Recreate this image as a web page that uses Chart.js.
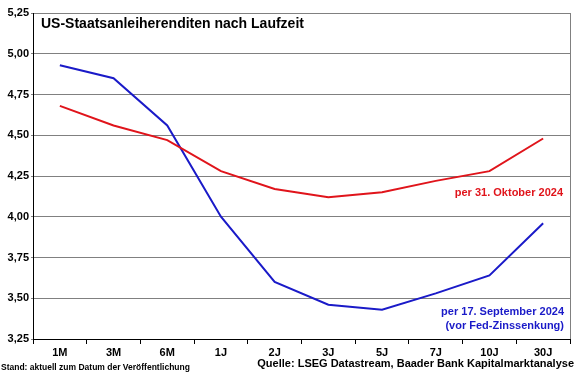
<!DOCTYPE html>
<html>
<head>
<meta charset="utf-8">
<script src="https://cdn.jsdelivr.net/npm/chart.js@4/dist/chart.umd.min.js"></script>
<style>
  html, body { margin: 0; padding: 0; background: #fff; }
  #wrap { width: 580px; height: 375px; position: relative; }
</style>
</head>
<body>
<div id="wrap"><canvas id="renditenChart"></canvas></div>
<script>
var laufzeiten = ['1M', '3M', '6M', '1J', '2J', '3J', '5J', '7J', '10J', '30J'];

var renditeOktober = [4.68, 4.56, 4.47, 4.28, 4.17, 4.12, 4.15, 4.22, 4.28, 4.48];
var renditeSeptember = [4.93, 4.85, 4.56, 4.00, 3.60, 3.46, 3.43, 3.53, 3.64, 3.96];

var yTicks = [3.25, 3.50, 3.75, 4.00, 4.25, 4.50, 4.75, 5.00, 5.25];

var titel = 'US-Staatsanleiherenditen nach Laufzeit';
var labelOktober = 'per 31. Oktober 2024';
var labelSeptember = ['per 17. September 2024', '(vor Fed-Zinssenkung)'];
var stand = 'Stand: aktuell zum Datum der Veröffentlichung';
var quelle = 'Quelle: LSEG Datastream, Baader Bank Kapitalmarktanalyse';

const ROT = '#e0141b';
const BLAU = '#1a1ac8';

// texte und rahmen direkt auf den canvas
const textPlugin = {
    id: 'texte',
    afterDraw: function(chart) {
        var ctx = chart.ctx;
        var a = chart.chartArea;
        ctx.save();
        // rahmen rechts
        ctx.strokeStyle = '#808080';
        ctx.lineWidth = 1;
        ctx.beginPath();
        ctx.moveTo(a.right + 0.5, a.top);
        ctx.lineTo(a.right + 0.5, a.bottom);
        ctx.stroke();

        ctx.fillStyle = '#000';
        ctx.font = 'bold 14px "Liberation Sans", Arial, sans-serif';
        ctx.textBaseline = 'middle';
        ctx.textAlign = 'left';
        ctx.fillText(titel, a.left + 8, 24);

        ctx.textAlign = 'right';
        ctx.font = 'bold 11px "Liberation Sans", Arial, sans-serif';
        ctx.fillStyle = ROT;
        ctx.fillText(labelOktober, a.right - 7, 193);
        ctx.fillStyle = BLAU;
        ctx.fillText(labelSeptember[0], a.right - 6, 312);
        ctx.fillText(labelSeptember[1], a.right - 6, 326);

        ctx.fillStyle = '#000';
        ctx.font = 'bold 11px "Liberation Sans", Arial, sans-serif';
        ctx.fillText(quelle, 574, 364);
        ctx.textAlign = 'left';
        ctx.font = 'bold 8.5px "Liberation Sans", Arial, sans-serif';
        ctx.fillText(stand, 1, 368);
        ctx.restore();
    }
};

var ctx = document.getElementById('renditenChart').getContext('2d');

var renditenChart = new Chart(ctx, {
    type: 'line',
    data: {
        labels: laufzeiten,
        datasets: [{
            label: labelOktober,
            data: renditeOktober,
            borderColor: ROT,
            borderWidth: 2,
            pointRadius: 0,
            tension: 0
        }, {
            label: labelSeptember[0],
            data: renditeSeptember,
            borderColor: BLAU,
            borderWidth: 2,
            pointRadius: 0,
            tension: 0
        }]
    },
    options: {
        responsive: true,
        maintainAspectRatio: false,
        animation: false,
        layout: { padding: { top: 13, right: 10, left: 0, bottom: 0 } },
        plugins: {
            legend: { display: false },
            tooltip: { enabled: false }
        },
        scales: {
            x: {
                offset: true,
                grid: {
                    display: true,
                    offset: true,
                    drawOnChartArea: false,
                    drawTicks: true,
                    tickLength: 5,
                    color: '#000'
                },
                border: { color: '#000', width: 1 },
                ticks: {
                    color: '#000',
                    padding: 2,
                    font: { family: '"Liberation Sans", Arial, sans-serif', size: 11, weight: 'bold' }
                },
                afterFit: function(s) { s.height = 36; }
            },
            y: {
                min: 3.25,
                max: 5.25,
                afterBuildTicks: function(s) {
                    s.ticks = yTicks.map(function(v) { return { value: v }; });
                },
                grid: {
                    color: '#808080',
                    tickLength: 2
                },
                border: { color: '#000', width: 1 },
                ticks: {
                    color: '#000',
                    padding: 2,
                    font: { family: '"Liberation Sans", Arial, sans-serif', size: 11, weight: 'bold' },
                    callback: function(v) { return v.toFixed(2).replace('.', ','); }
                },
                afterFit: function(s) { s.width = 33; }
            }
        }
    },
    plugins: [textPlugin]
});
</script>
</body>
</html>
